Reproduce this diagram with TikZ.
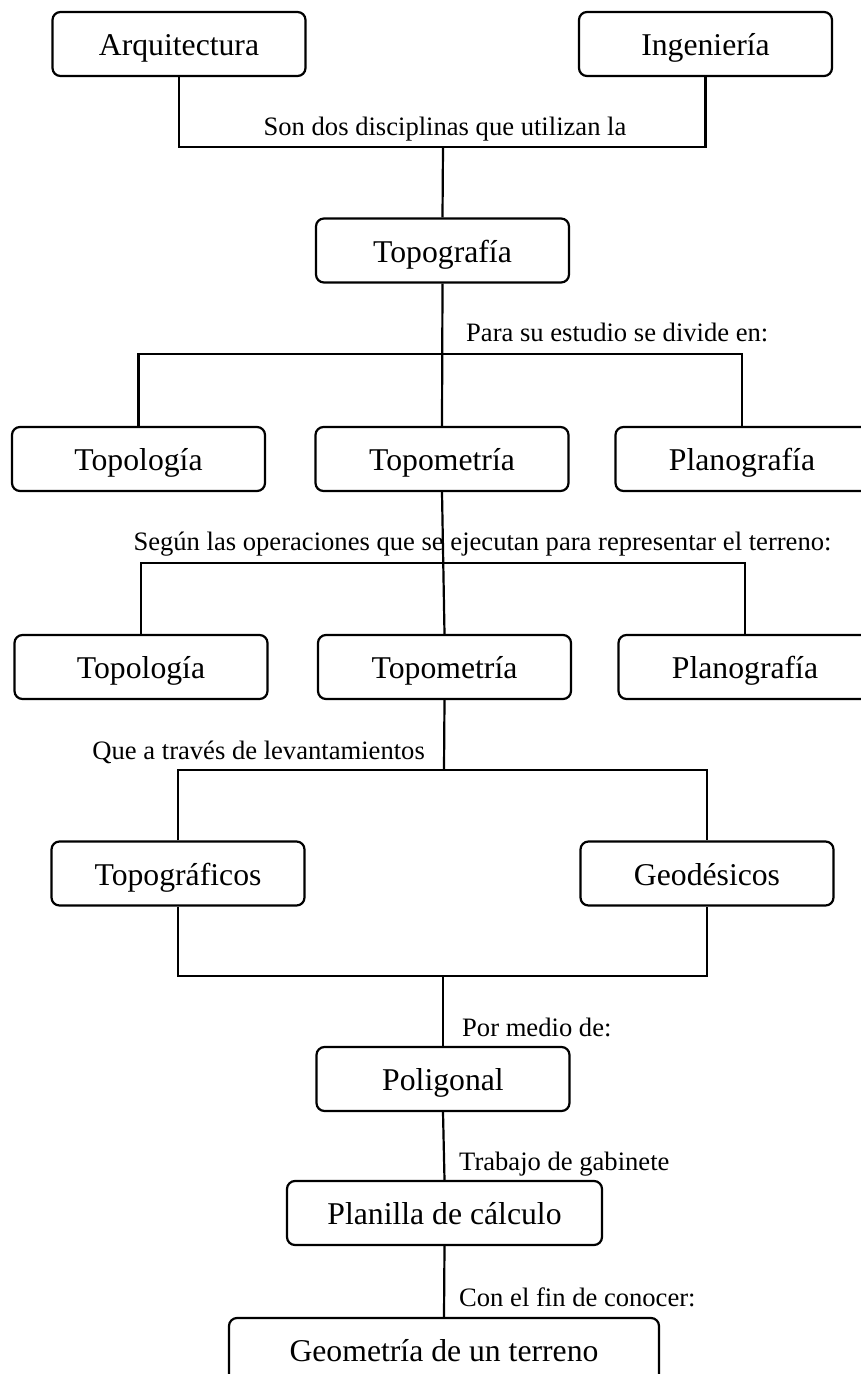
\documentclass[tikz,border=0pt]{standalone}
\usepackage{fontspec}
\setmainfont{Liberation Serif}
\tikzset{
  box/.style={draw, line width=2.2pt, rounded corners=8pt, minimum width=253pt,
    minimum height=64pt, inner sep=0pt, text height=23pt, text depth=0pt,
    font=\fontsize{31.7}{38}\selectfont},
  lbl/.style={inner sep=0pt, font=\fontsize{26.6}{32}\selectfont},
  conn/.style={line width=2.2pt}
}
\begin{document}
\begin{tikzpicture}[x=1pt,y=-1pt]
\useasboundingbox (0,0) rectangle (861,1374);
\clip (0,0) rectangle (861,1374);
% boxes
\node[box] (arq) at (179,44) {Arquitectura};
\node[box] (ing) at (705.5,44) {Ingeniería};
\node[box] (topog) at (442.5,250.5) {Topografía};
\node[box] (tl1) at (138.5,459) {Topología};
\node[box] (tm1) at (442,459) {Topometría};
\node[box] (pl1) at (742,459) {Planografía};
\node[box] (tl2) at (141,667) {Topología};
\node[box] (tm2) at (444.5,667) {Topometría};
\node[box] (pl2) at (745,667) {Planografía};
\node[box] (tgr) at (178,873.5) {Topográficos};
\node[box] (geo) at (707,873.5) {Geodésicos};
\node[box] (pol) at (443,1079) {Poligonal};
\node[box, minimum width=315pt] (pla) at (444.5,1213) {Planilla de cálculo};
\node[box, minimum width=430pt] (gmt) at (444,1350) {Geometría de un terreno};
% labels
\node[lbl, anchor=base] (l1) at (445,135) {Son dos disciplinas que utilizan la};
\node[lbl, anchor=base west] (l2) at (466,341) {Para su estudio se divide en:};
\node[lbl, anchor=base] (l3) at (482.5,550) {Según las operaciones que se ejecutan para representar el terreno:};
\node[lbl, anchor=base east] (l4) at (425,759) {Que a través de levantamientos};
\node[lbl, anchor=base west] (l5) at (462,1036) {Por medio de:};
\node[lbl, anchor=base west] (l6) at (459,1170) {Trabajo de gabinete};
\node[lbl, anchor=base west] (l7) at (459,1306) {Con el fin de conocer:};
% junction points
\coordinate (j1) at (443,147);
\coordinate (j2) at (442,354);
\coordinate (j3) at (443,563);
\coordinate (j4) at (444,770);
\coordinate (j5) at (443,976);
% connectors
\draw[conn] (arq.south) |- (j1) -| (ing.south);
\draw[conn] (j1) -- (topog.north);
\draw[conn] (topog.south) -- (tm1.north);
\draw[conn] (tl1.north) |- (j2) -| (pl1.north);
\draw[conn] (tm1.south) -- (tm2.north);
\draw[conn] (tl2.north) |- (j3) -| (pl2.north);
\draw[conn] (tm2.south) -- (j4);
\draw[conn] (tgr.north) |- (j4) -| (geo.north);
\draw[conn] (tgr.south) |- (j5) -| (geo.south);
\draw[conn] (j5) -- (pol.north);
\draw[conn] (pol.south) -- (pla.north);
\draw[conn] (pla.south) -- (gmt.north);
\end{tikzpicture}
\end{document}
